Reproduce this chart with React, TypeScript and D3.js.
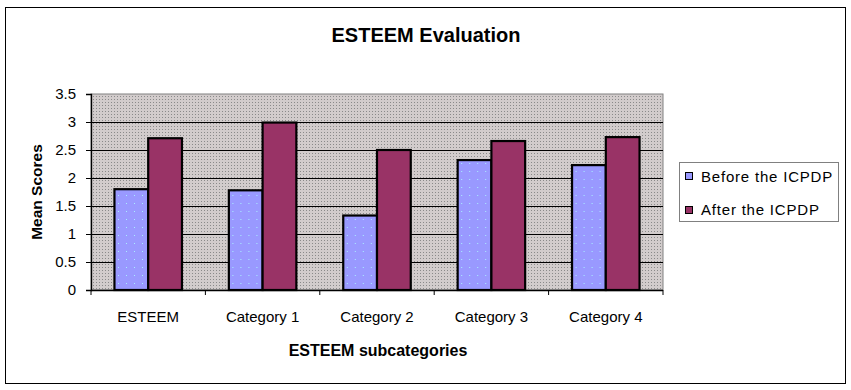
import React, { useEffect, useRef } from "react";
import * as d3 from "d3";

const categories = ["ESTEEM", "Category 1", "Category 2", "Category 3", "Category 4"];
const seriesNames = ["Before the ICPDP", "After the ICPDP"];
const beforeValues = [1.8, 1.78, 1.33, 2.32, 2.23];
const afterValues = [2.71, 2.99, 2.5, 2.66, 2.73];
const yTicks = [0, 0.5, 1, 1.5, 2, 2.5, 3, 3.5];
const colors = ["#9999ff", "#993366"];

const W = 851;
const H = 390;
const FONT = "'Liberation Sans', Arial, sans-serif";

export default function App() {
  const svgRef = useRef<SVGSVGElement>(null);

  useEffect(() => {
    const svg = d3.select(svgRef.current);
    svg.selectAll("*").remove();

    const plot = { left: 91, right: 663, top: 94, bottom: 290 };

    const defs = svg.append("defs");
    // dotted gray background like the old excel plot area
    const bg = defs.append("pattern").attr("id", "bgdots")
      .attr("width", 3).attr("height", 3).attr("patternUnits", "userSpaceOnUse");
    bg.append("rect").attr("width", 3).attr("height", 3).attr("fill", "#d2cccc");
    bg.append("rect").attr("width", 1).attr("height", 1).attr("fill", "#8a8a8a");

    const bd = defs.append("pattern").attr("id", "beforedots")
      .attr("width", 8).attr("height", 8).attr("patternUnits", "userSpaceOnUse");
    bd.append("rect").attr("width", 8).attr("height", 8).attr("fill", colors[0]);
    bd.append("rect").attr("x", 3).attr("y", 3).attr("width", 1).attr("height", 1).attr("fill", "#aaf0ff");

    // outer frame
    svg.append("rect").attr("x", 5.5).attr("y", 7.5).attr("width", 840).attr("height", 376)
      .attr("fill", "#fff").attr("stroke", "#000").attr("stroke-width", 1);

    const x0 = d3.scaleBand<string>().domain(categories).range([plot.left, plot.right]).padding(0);
    const gap = x0.bandwidth() * 0.205;
    const x1 = d3.scaleBand<string>().domain(seriesNames).range([gap, x0.bandwidth() - gap]).padding(0);
    const y = d3.scaleLinear().domain([0, 3.5]).range([plot.bottom, plot.top]);

    svg.append("rect").attr("x", plot.left).attr("y", plot.top)
      .attr("width", plot.right - plot.left).attr("height", plot.bottom - plot.top)
      .attr("fill", "url(#bgdots)").attr("stroke", "#808080").attr("stroke-width", 1);

    // gridlines
    svg.append("g").selectAll("line").data(yTicks.filter((t) => t > 0 && t < 3.5)).enter()
      .append("line")
      .attr("x1", plot.left).attr("x2", plot.right)
      .attr("y1", (d) => Math.round(y(d)) + 0.5).attr("y2", (d) => Math.round(y(d)) + 0.5)
      .attr("stroke", "#000").attr("stroke-width", 1);

    // bars
    const groups = svg.append("g").selectAll("g").data(categories).enter().append("g")
      .attr("transform", (d) => `translate(${x0(d)},0)`);
    groups.each(function (c, i) {
      const g = d3.select(this);
      const vals = [beforeValues[i], afterValues[i]];
      g.selectAll("rect").data(vals).enter().append("rect")
        .attr("x", (d, j) => x1(seriesNames[j])!)
        .attr("y", (d) => y(d))
        .attr("width", x1.bandwidth())
        .attr("height", (d) => y(0) - y(d))
        .attr("fill", (d, j) => (j === 0 ? "url(#beforedots)" : colors[1]))
        .attr("stroke", "#000").attr("stroke-width", 2.2);
    });

    // y axis
    const yAxis = d3.axisLeft(y).tickValues(yTicks).tickSize(5).tickPadding(10)
      .tickFormat((d) => String(d));
    const ya = svg.append("g").attr("transform", `translate(${plot.left},0)`).call(yAxis);
    ya.select(".domain").attr("stroke", "#000").attr("stroke-width", 1.3);
    ya.selectAll("text").attr("font-family", FONT).attr("font-size", 15).attr("fill", "#000");

    // x axis
    const xa = svg.append("g").attr("transform", `translate(0,${plot.bottom})`);
    xa.append("line").attr("x1", plot.left).attr("x2", plot.right)
      .attr("y1", 0.5).attr("y2", 0.5).attr("stroke", "#000").attr("stroke-width", 1.3);
    const bounds = categories.map((c) => x0(c)!).concat([plot.right]);
    xa.selectAll("line.tick").data(bounds).enter().append("line")
      .attr("x1", (d) => d).attr("x2", (d) => d).attr("y1", 0).attr("y2", 5)
      .attr("stroke", "#000");
    xa.selectAll("text").data(categories).enter().append("text")
      .attr("x", (d) => x0(d)! + x0.bandwidth() / 2).attr("y", 32)
      .attr("text-anchor", "middle").attr("font-family", FONT).attr("font-size", 15)
      .text((d) => d);

    // titles
    svg.append("text").attr("x", 426).attr("y", 42).attr("text-anchor", "middle")
      .attr("font-family", FONT).attr("font-weight", "bold").attr("font-size", 20)
      .text("ESTEEM Evaluation");
    svg.append("text").attr("x", 378).attr("y", 356).attr("text-anchor", "middle")
      .attr("font-family", FONT).attr("font-weight", "bold").attr("font-size", 16)
      .text("ESTEEM subcategories");
    svg.append("text").attr("transform", `translate(42,${(plot.top + plot.bottom) / 2}) rotate(-90)`)
      .attr("text-anchor", "middle").attr("font-family", FONT).attr("font-weight", "bold").attr("font-size", 15.5)
      .text("Mean Scores");

    // legend
    const lg = svg.append("g").attr("transform", "translate(679,162)");
    lg.append("rect").attr("x", 0.5).attr("y", 0.5).attr("width", 159).attr("height", 59)
      .attr("fill", "#fff").attr("stroke", "#808080");
    seriesNames.forEach((s, i) => {
      lg.append("rect").attr("x", 6.5).attr("y", 10.5 + i * 34).attr("width", 7).attr("height", 7)
        .attr("fill", colors[i]).attr("stroke", "#000");
      lg.append("text").attr("x", 22).attr("y", 20 + i * 33)
        .attr("font-family", FONT).attr("font-size", 15).attr("letter-spacing", 0.8).text(s);
    });
  }, []);

  return <svg ref={svgRef} width={W} height={H} style={{ position: "absolute", left: 0, top: 0 }} />;
}
